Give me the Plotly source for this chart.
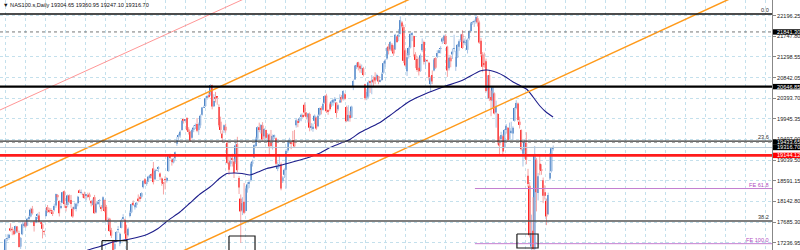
import plotly.graph_objects as go

# ---------------- data (daily bars, NAS100.s) ----------------
# one line per month: Jan24(12) Feb(21) Mar(20) Apr(22) May(23) Jun(20) Jul(23) Aug(22)
# Sep(21) Oct(23) Nov(21) Dec(21) Jan25(22) Feb(20) Mar(21) Apr(18)
open_ = [
    16900, 16840, 16830, 17070, 17320, 17340, 17550, 17530, 17500, 17450, 17590, 17450,
    17150, 17420, 17600, 17680, 17610, 17770, 17810, 17980, 17700, 17680, 17830, 17830, 17690, 17640, 17490, 17820, 18010, 17940, 17940, 17920, 17950,
    18050, 18280, 18150, 18000, 18110, 18360, 18030, 18060, 18270, 18170, 17980, 17980, 17970, 18100, 18380, 18330, 18300, 18300, 18260, 18280,
    18290, 18150, 18060, 18230, 17900, 18100, 18150, 18020, 18000, 18170, 18020, 17710, 17760, 17510, 17280, 17100, 17260, 17520, 17220, 17560, 17760, 17740,
    17440, 17400, 17820, 17900, 18110, 18010, 18060, 18200, 18220, 18240, 18450, 18620, 18540, 18570, 18650, 18720, 18860, 18620, 18810, 18850, 18750, 18640, 18560,
    18620, 18590, 18800, 19130, 19050, 18990, 19080, 19400, 19560, 19580, 19700, 19930, 19910, 19960, 19710, 19660, 19530, 19700, 19790, 19830,
    19700, 19800, 20030, 20190, 20220, 20400, 20460, 20470, 20680, 20220, 20410, 20420, 20200, 19880, 19620, 19700, 19770, 19420, 18990, 18960, 19090, 19010, 19000,
    19390, 18650, 18200, 17940, 18130, 17930, 18400, 18520, 18600, 18960, 19100, 19350, 19510, 19760, 19700, 19800, 19560, 19700, 19540, 19600, 19430, 19470,
    19560, 19520, 18850, 18930, 18950, 18580, 18720, 18830, 19250, 19410, 19430, 19480, 19450, 19800, 19880, 19900, 20000, 20020, 20250, 20080, 19970,
    20050, 19760, 19730, 19900, 19970, 19780, 20030, 20170, 20140, 20290, 20450, 20120, 20260, 20230, 20300, 20330, 20300, 20150, 20300, 20420, 20380, 20480, 20200,
    19900, 20020, 19970, 20650, 20800, 21090, 21180, 21100, 21040, 21050, 20700, 20400, 20430, 20760, 20750, 20800, 20850, 20800, 20880, 20760, 20790,
    20950, 21150, 21260, 21520, 21460, 21560, 21480, 21460, 21740, 21750, 21800, 22050, 21950, 21440, 20980, 21330, 21500, 21780, 21750, 21350, 21250,
    21060, 20990, 21440, 21620, 21200, 21220, 21170, 20700, 20900, 21000, 21270, 21300, 21380, 21470, 21630, 21650, 21750, 21520, 21050, 21280, 21350, 21480,
    21080, 21280, 21520, 21660, 21790, 21600, 21600, 21450, 21700, 21860, 22040, 22060, 22070, 22140, 22050, 21650, 21350, 21150, 21200, 20560,
    20900, 20420, 20340, 20500, 20080, 20050, 19420, 19500, 19560, 19320, 19700, 19750, 19500, 19640, 19620, 19900, 20180, 20280, 19880, 19700, 19180,
    19250, 19420, 18700, 18480, 17150, 17500, 17100, 19050, 18320, 18960, 18830, 18600, 18340, 18150, 17860, 18640, 18800, 19304.65,
]
high = [
    16960, 16880, 17080, 17330, 17420, 17430, 17660, 17580, 17540, 17610, 17600, 17500,
    17360, 17700, 17700, 17700, 17780, 17830, 18000, 18040, 17720, 17810, 17880, 17910, 17700, 17660, 17510, 18000, 18060, 18000, 17990, 17950, 18090,
    18310, 18300, 18160, 18110, 18350, 18380, 18100, 18290, 18290, 18280, 18020, 18110, 18110, 18260, 18400, 18400, 18330, 18350, 18300, 18330,
    18330, 18170, 18200, 18280, 18130, 18160, 18190, 18060, 18250, 18180, 18060, 17790, 17780, 17560, 17300, 17280, 17490, 17600, 17460, 17760, 17860, 17760,
    17630, 17570, 17940, 18090, 18160, 18080, 18130, 18290, 18260, 18340, 18600, 18650, 18580, 18700, 18730, 18750, 19000, 18850, 18840, 18910, 18770, 18660, 18560,
    18690, 18670, 19160, 19180, 19080, 19090, 19230, 19550, 19620, 19690, 19910, 19950, 19940, 19980, 19760, 19680, 19720, 19800, 19840, 19960,
    19860, 20040, 20200, 20230, 20400, 20470, 20510, 20700, 20690, 20480, 20530, 20430, 20260, 19990, 19690, 19820, 19840, 19460, 19110, 19120, 19180, 19070, 19450,
    19550, 18690, 18290, 18230, 18540, 18440, 18560, 18610, 18990, 19050, 19390, 19550, 19780, 19860, 19830, 19870, 19740, 19710, 19630, 19620, 19700, 19600,
    19600, 19540, 19010, 19170, 18990, 18690, 18860, 19280, 19470, 19530, 19440, 19680, 19700, 19950, 19930, 19980, 20060, 20060, 20300, 20090, 20070,
    20080, 19850, 19840, 20040, 19990, 20040, 20190, 20220, 20300, 20460, 20490, 20150, 20300, 20350, 20380, 20420, 20310, 20260, 20480, 20460, 20570, 20510, 20230,
    20240, 20110, 20230, 20800, 21120, 21170, 21190, 21150, 21130, 21080, 20710, 20590, 20780, 20780, 20900, 20870, 20960, 20930, 20880, 20800, 20960,
    21200, 21250, 21510, 21580, 21640, 21600, 21550, 21800, 21760, 21900, 22180, 22080, 22000, 21460, 21380, 21520, 21810, 21840, 21760, 21400, 21310,
    21280, 21370, 21700, 21650, 21260, 21240, 21190, 20870, 21000, 21270, 21290, 21440, 21460, 21530, 21730, 21780, 21790, 21540, 21340, 21330, 21480, 21780,
    21430, 21580, 21680, 21800, 21880, 21700, 21680, 21700, 21880, 22060, 22080, 22110, 22230, 22190, 22090, 21710, 21400, 21390, 21260, 20900,
    21000, 20560, 20660, 20520, 20340, 20070, 19560, 19660, 19600, 19720, 19830, 19760, 19860, 19880, 19780, 20200, 20350, 20300, 19990, 19710, 19330,
    19480, 19650, 18850, 18560, 17850, 18230, 19350, 19090, 18760, 19160, 18950, 18660, 18490, 18200, 18330, 19200, 19320, 19360.95,
]
low = [
    16760, 16700, 16810, 17040, 17270, 17300, 17480, 17400, 17400, 17430, 17450, 17130,
    17100, 17400, 17560, 17560, 17600, 17730, 17790, 17850, 17480, 17660, 17750, 17670, 17640, 17330, 17400, 17800, 17890, 17880, 17880, 17820, 17920,
    18000, 18160, 17810, 17970, 18100, 18000, 17920, 18010, 18100, 18000, 17780, 17960, 17920, 18030, 18320, 18290, 18220, 18200, 18160, 18210,
    18160, 18030, 18050, 17870, 17880, 18060, 18010, 17920, 17960, 17900, 17690, 17630, 17470, 17340, 16970, 17080, 17250, 17450, 17160, 17550, 17720, 17420,
    17290, 17370, 17790, 17880, 18040, 17960, 18000, 18120, 18140, 18200, 18420, 18510, 18480, 18560, 18630, 18640, 18510, 18600, 18800, 18780, 18600, 18480, 18290,
    18400, 18550, 18790, 19060, 18920, 18970, 19050, 19350, 19470, 19530, 19680, 19840, 19880, 19680, 19600, 19450, 19510, 19650, 19720, 19650,
    19590, 19740, 20010, 20180, 20200, 20360, 20390, 20450, 20150, 20200, 20300, 20250, 19760, 19620, 19440, 19630, 19640, 18950, 18720, 18900, 18900, 18650, 18960,
    18780, 18300, 17230, 17840, 17860, 17920, 18330, 18430, 18570, 18900, 19080, 19320, 19480, 19650, 19620, 19470, 19480, 19500, 19430, 19170, 19300, 19270,
    19500, 18920, 18800, 18880, 18380, 18540, 18650, 18420, 19200, 19390, 19280, 19380, 19310, 19750, 19760, 19860, 19890, 19960, 20000, 19930, 19860,
    19670, 19690, 19660, 19830, 19700, 19760, 20000, 20040, 20120, 20270, 20070, 20030, 20110, 20200, 20230, 20280, 19970, 20120, 20300, 20300, 20340, 20350, 19870,
    19880, 19880, 19960, 20570, 20790, 21030, 21000, 20950, 20940, 20870, 20350, 20350, 20400, 20510, 20480, 20660, 20700, 20780, 20700, 20740, 20770,
    20930, 21080, 21230, 21350, 21430, 21400, 21320, 21450, 21600, 21640, 21790, 21920, 21160, 21080, 20880, 21260, 21480, 21640, 21300, 21050, 20970,
    20890, 20970, 21400, 21130, 21030, 21180, 20780, 20540, 20700, 20980, 21030, 21270, 21370, 21370, 21580, 21600, 21560, 20860, 21000, 21070, 21250, 21400,
    20990, 21270, 21430, 21620, 21470, 21560, 21540, 21370, 21660, 21830, 22000, 21950, 22020, 21960, 21580, 21310, 20960, 21060, 20520, 20380,
    20330, 20000, 20160, 20040, 19750, 19380, 19150, 19420, 19150, 19300, 19620, 19450, 19490, 19620, 19480, 19880, 20150, 19880, 19730, 19250, 18900,
    19070, 18950, 18450, 17350, 16540, 16950, 16880, 17920, 18160, 18710, 18720, 18100, 18180, 17620, 17850, 18600, 18770, 19247.10,
]
close = [
    16850, 16810, 17050, 17310, 17330, 17410, 17500, 17520, 17420, 17600, 17480, 17140,
    17340, 17640, 17650, 17590, 17760, 17780, 17960, 17880, 17600, 17800, 17850, 17690, 17660, 17540, 17480, 17940, 17940, 17920, 17930, 17880, 18040,
    18300, 18230, 17880, 18020, 18340, 18080, 18010, 18270, 18130, 18080, 17810, 18020, 18090, 18240, 18340, 18340, 18280, 18210, 18280, 18250,
    18250, 18100, 18160, 17880, 18090, 18110, 18150, 17980, 18230, 17930, 17710, 17720, 17490, 17390, 17040, 17210, 17470, 17530, 17430, 17720, 17780, 17440,
    17320, 17540, 17890, 18080, 18060, 18060, 18110, 18160, 18200, 18320, 18590, 18530, 18550, 18680, 18710, 18700, 18560, 18810, 18820, 18870, 18680, 18540, 18540,
    18610, 18650, 19140, 19100, 19000, 19070, 19210, 19470, 19580, 19660, 19900, 19910, 19920, 19700, 19660, 19470, 19700, 19750, 19790, 19680,
    19830, 20010, 20190, 20200, 20390, 20440, 20440, 20680, 20210, 20330, 20390, 20400, 19800, 19700, 19520, 19800, 19690, 18980, 18830, 19020, 19060, 18760, 19360,
    18820, 18440, 17920, 18100, 17890, 18420, 18510, 18550, 18960, 19010, 19370, 19510, 19760, 19720, 19810, 19490, 19720, 19530, 19590, 19340, 19350, 19570,
    19560, 18960, 18920, 18930, 18420, 18660, 18830, 19240, 19440, 19470, 19400, 19440, 19340, 19910, 19870, 19950, 20030, 20000, 20080, 19990, 20060,
    19750, 19780, 19770, 20010, 19730, 20010, 20180, 20150, 20270, 20440, 20110, 20110, 20150, 20320, 20360, 20380, 20070, 20240, 20350, 20360, 20550, 20380, 19890,
    20030, 19960, 20210, 20770, 21100, 21120, 21070, 21040, 21040, 20900, 20390, 20530, 20740, 20740, 20770, 20740, 20780, 20900, 20760, 20770, 20930,
    21160, 21220, 21490, 21430, 21620, 21430, 21370, 21780, 21620, 21780, 22100, 21960, 21210, 21110, 21290, 21490, 21800, 21800, 21510, 21230, 21010,
    20980, 21330, 21580, 21190, 21220, 21210, 20850, 20830, 20760, 21240, 21060, 21380, 21440, 21490, 21700, 21760, 21580, 21000, 21280, 21200, 21410, 21480,
    21300, 21560, 21640, 21780, 21490, 21650, 21610, 21670, 21860, 22030, 22050, 22070, 22170, 22050, 21610, 21360, 21080, 21130, 20550, 20880,
    20390, 20350, 20630, 20060, 20200, 19430, 19360, 19590, 19230, 19700, 19790, 19480, 19740, 19680, 19750, 20180, 20290, 19920, 19810, 19280, 19280,
    19440, 19050, 18520, 17400, 17440, 17100, 19150, 18340, 18690, 18830, 18820, 18260, 18260, 17810, 18280, 18760, 19300, 19316.70,
]

# moving average (navy line), read at selected bars
ma_bar = [47.3, 52.1, 59.2, 67.0, 77.1, 87.2, 93.8, 99.7, 106.8, 112.8, 118.8, 124.7, 130.7,
          134.8, 139.6, 143.8, 148.5, 153.3, 158.6, 166.4, 178.3, 184.2, 190.2, 196.1, 202.1,
          208.0, 214.0, 219.9, 225.9, 231.8, 237.8, 243.8, 252.7, 263.4, 275.3, 285.4, 289.6,
          295.5, 300.3, 305.1, 309.2, 313.4, 317.0, 321.1, 324.7, 328.9]
ma_value = [16989, 17077, 17153, 17252, 17317, 17416, 17547, 17722, 17907, 18104, 18300, 18453, 18650,
            18748, 18759, 18748, 18716, 18781, 18858, 18924, 19043, 19109, 19196, 19316, 19404,
            19491, 19644, 19753, 19863, 20016, 20179, 20332, 20485, 20638, 20791, 20988, 21010,
            20955, 20868, 20748, 20671, 20584, 20420, 20223, 20092, 19983]

# price axis ticks
tick_values = [22196.25, 21747.80, 21298.55, 20842.05, 20393.70, 19945.35, 19497.00,
               19039.50, 18591.15, 18142.80, 17685.30, 17236.95]
tick_labels = ["22196.25", "21747.80", "21298.55", "20842.05", "20393.70", "19945.35", "19497.00",
               "19039.50", "18591.15", "18142.80", "17685.30", "17236.95"]

# fibonacci retracement levels / expansion levels
fib_names = ["0.0", "23.6", "38.2"]
fib_prices = [22233, 19455, 17712]
fe_names = ["FE 61.8", "FE 100.0"]
fe_prices = [18420, 17215]
fe_start_bar = 282.4

# horizontal lines
hl_dotted = [21841.30, 19433.65]
hl_black = 20646.85
hl_red = 19144.12
bid_price = 19316.70

# highlighted axis labels
hi_labels = ["21841.30", "20646.85", "19433.65", "19316.70", "19144.12"]
hi_prices = [21841.30, 20646.85, 19433.65, 19316.70, 19144.12]
hi_colors = ["black", "black", "black", "black", "#ff0000"]

# trend channel lines (bar, price anchors)
orange_upper_bar = [-0.3, 249.7]
orange_upper_price = [18431, 22662]
orange_lower_bar = [89.0, 459.2]
orange_lower_price = [16723, 22989]
pink_bar = [-0.3, 160.4]
pink_price = [20136, 22821]

# rectangles marking lows
box_bar = [[60.4, 75.3], [136.0, 151.5], [307.4, 320.0]]
box_price = [[17280, 16900], [17383, 16900], [17426, 17120]]

title_text = "▼ NAS100.s,Daily 19304.65 19360.95 19247.10 19316.70"

# ---------------- layout constants ----------------
PX_PER_BAR = 1.68
X0_PX = 0.5
PLOT_W = 772
X_LO = -X0_PX / PX_PER_BAR
X_HI = (PLOT_W - X0_PX) / PX_PER_BAR
Y_TOP = 22539.3
Y_BOT = 17076.8
PRICE_PER_PX = (Y_TOP - Y_BOT) / 250.0
FONT = "Liberation Sans, Arial, sans-serif"
FS = 5.6

n = len(close)
assert len(open_) == n and len(high) == n and len(low) == n

fig = go.Figure()

up = [i for i in range(n) if close[i] >= open_[i]]
dn = [i for i in range(n) if close[i] < open_[i]]


def wicks(idx):
    xs, ys = [], []
    for i in idx:
        xs += [i, i, None]
        ys += [min(low[i], open_[i], close[i]), max(high[i], open_[i], close[i]), None]
    return xs, ys


for idx, wc, bc in [(up, "#a9c4e6", "#4a82c6"), (dn, "#f6a4a4", "#ff2424")]:
    wx, wy = wicks(idx)
    fig.add_trace(go.Scatter(x=wx, y=wy, mode="lines", line=dict(color=wc, width=1),
                             hoverinfo="skip"))
    fig.add_trace(go.Bar(x=idx, base=[min(open_[i], close[i]) for i in idx],
                         y=[max(abs(close[i] - open_[i]), 8) for i in idx],
                         width=0.9, marker=dict(color=bc, line=dict(width=0)),
                         hoverinfo="skip"))

# moving average
fig.add_trace(go.Scatter(x=ma_bar, y=ma_value, mode="lines",
                         line=dict(color="#1c1c8a", width=1.1, shape="spline", smoothing=0.6)))

# channel lines
fig.add_trace(go.Scatter(x=pink_bar, y=pink_price, mode="lines",
                         line=dict(color="#ff8a8a", width=0.9)))
for bx, py in [(orange_upper_bar, orange_upper_price), (orange_lower_bar, orange_lower_price)]:
    fig.add_trace(go.Scatter(x=bx, y=py, mode="lines", line=dict(color="#ff9a1a", width=1.5)))

full = [X_LO, X_HI]
# fib lines
fib_styles = [("#111111", 1.4, "solid"), ("#333333", 1.1, "solid"), ("#555555", 1.4, "solid")]
for p, (c, w, d) in zip(fib_prices, fib_styles):
    fig.add_trace(go.Scatter(x=full, y=[p, p], mode="lines", line=dict(color=c, width=w, dash=d)))
# dotted lines
for p in hl_dotted:
    fig.add_trace(go.Scatter(x=full, y=[p, p], mode="lines",
                             line=dict(color="#777777", width=1, dash="dot")))
# bid line
fig.add_trace(go.Scatter(x=full, y=[bid_price, bid_price], mode="lines",
                         line=dict(color="#b9cad8", width=1)))
# thick black
fig.add_trace(go.Scatter(x=full, y=[hl_black, hl_black], mode="lines",
                         line=dict(color="#000000", width=2.2)))
# red
fig.add_trace(go.Scatter(x=full, y=[hl_red, hl_red], mode="lines",
                         line=dict(color="#ff1c1c", width=2.6)))
# FE lines
for p in fe_prices:
    fig.add_trace(go.Scatter(x=[fe_start_bar, X_HI], y=[p, p], mode="lines",
                             line=dict(color="#c47ed0", width=1)))

# boxes
for bx, py in zip(box_bar, box_price):
    fig.add_trace(go.Scatter(x=[bx[0], bx[1], bx[1], bx[0], bx[0]],
                             y=[py[0], py[0], py[1], py[1], py[0]], mode="lines",
                             line=dict(color="#1a1a1a", width=1.2)))

annotations = []
shapes = []
# level texts
for name, p in zip(fib_names, fib_prices):
    annotations.append(dict(x=1, xref="paper", xanchor="right", xshift=-1, y=p, yref="y",
                            yanchor="bottom", yshift=-1, text=name, showarrow=False,
                            font=dict(family=FONT, size=FS, color="#333333")))
for name, p in zip(fe_names, fe_prices):
    annotations.append(dict(x=1, xref="paper", xanchor="right", xshift=-1, y=p, yref="y",
                            yanchor="bottom", yshift=-1, text=name, showarrow=False,
                            font=dict(family=FONT, size=FS, color="#b050c0")))
# highlighted price labels: boxes as shapes (cover tick labels), text as annotations
x_box0 = 1.0 + 1.0 / PLOT_W
x_box1 = 800.0 / PLOT_W
half = 2.7 * PRICE_PER_PX
for t, p, c in zip(hi_labels, hi_prices, hi_colors):
    shapes.append(dict(type="rect", xref="paper", yref="y", x0=x_box0, x1=x_box1,
                       y0=p - half, y1=p + half, fillcolor=c, line=dict(width=0),
                       layer="above"))
    annotations.append(dict(x=1, xref="paper", xanchor="left", xshift=3, y=p, yref="y",
                            yanchor="middle", text=t, showarrow=False,
                            font=dict(family=FONT, size=FS, color="white")))
# title
annotations.append(dict(x=0, xref="paper", xanchor="left", xshift=1, y=1, yref="paper",
                        yanchor="top", yshift=0, text=title_text, showarrow=False,
                        font=dict(family=FONT, size=FS, color="#111111")))

grid_x = [(px - X0_PX) / PX_PER_BAR for px in range(5, PLOT_W, 20)]

fig.update_layout(
    width=800, height=250, margin=dict(l=0, r=800 - PLOT_W, t=0, b=0),
    paper_bgcolor="white", plot_bgcolor="white", showlegend=False,
    barmode="overlay", annotations=annotations, shapes=shapes,
)
fig.update_xaxes(range=[X_LO, X_HI], tickvals=grid_x, showticklabels=False, ticks="",
                 showgrid=True, gridcolor="#c4e0ec", griddash="dot", gridwidth=1,
                 zeroline=False, showline=False, fixedrange=True)
fig.update_yaxes(range=[Y_BOT, Y_TOP], side="right", tickvals=tick_values, ticktext=tick_labels,
                 showgrid=True, gridcolor="#c4e0ec", griddash="dot", gridwidth=1,
                 ticks="outside", ticklen=3, tickcolor="#888888", showline=True,
                 linecolor="#888888", linewidth=1, zeroline=False,
                 tickfont=dict(family=FONT, size=FS, color="#222222"), fixedrange=True)

fig.write_html("out.html")
